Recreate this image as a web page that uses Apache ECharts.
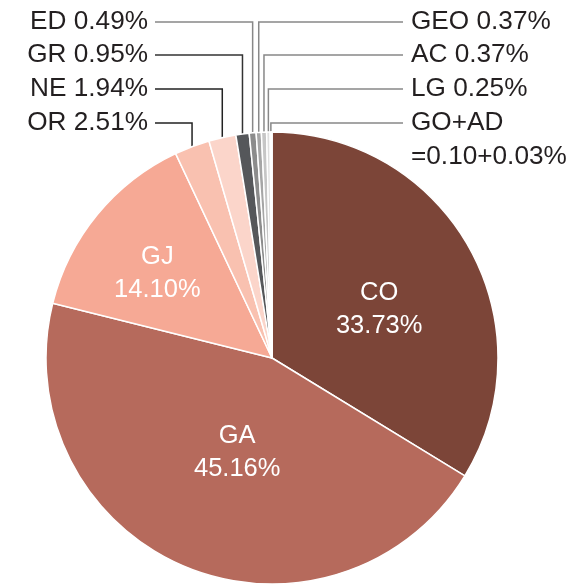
<!DOCTYPE html>
<html>
<head>
<meta charset="utf-8">
<script src="https://cdn.jsdelivr.net/npm/echarts@6/dist/echarts.min.js"></script>
<style>html,body{margin:0;padding:0;background:#fff}#c{width:567px;height:585px}</style>
</head>
<body>
<div id="c"></div>
<script>
// ---- data ----
const names  = ['CO','GA','GJ','OR','NE','GR','ED','GEO','AC','LG','GO','AD'];
const values = [33.73, 45.16, 14.10, 2.51, 1.94, 0.95, 0.49, 0.37, 0.37, 0.25, 0.10, 0.03];
const labelTexts = ['CO\n33.73%','GA\n45.16%','GJ\n14.10%','OR 2.51%','NE 1.94%','GR 0.95%','ED 0.49%','GEO 0.37%','AC 0.37%','LG 0.25%','GO+AD\n=0.10+0.03%',''];

// ---- styles ----
const colors = ['#7c4538','#b66a5c','#f6a995','#f9c1b0','#fbd5ca','#55575a','#8c8c8c','#a6a6a6','#c6c6c6','#dedede','#fad0c4','#fde6df'];
const FONT = 'Liberation Sans, Arial, Helvetica, sans-serif';
const FS_IN = 25.5, FS_OUT = 26.2;
// inside label nudges
const insideShift = {0:[6,8], 1:[10,-13], 2:[-25,-11]};
// outside label placement: side, text row centre y
const outside = {
  3:{side:'L', y:123, line:'#222'},
  4:{side:'L', y:89,  line:'#222'},
  5:{side:'L', y:55,  line:'#333'},
  6:{side:'L', y:22,  line:'#888'},
  7:{side:'R', y:22,  line:'#888'},
  8:{side:'R', y:55,  line:'#888'},
  9:{side:'R', y:89,  line:'#888'},
  10:{side:'R', y:123, line:'#888', multi:true}
};
const LEFT_TEXT_END = 148, LEFT_LINE_END = 155, RIGHT_TEXT_START = 411, RIGHT_LINE_END = 403;

const data = names.map((n, i) => {
  const item = { name: n, value: values[i], itemStyle: { color: colors[i] } };
  if (i < 3) {
    item.label = { show: true, position: 'inside', color: '#fff', formatter: labelTexts[i],
      fontSize: FS_IN, lineHeight: 33, fontFamily: FONT };
    item.labelLine = { show: false };
  } else if (outside[i]) {
    item.label = { show: true, position: 'outside', color: '#231f20', formatter: labelTexts[i],
      fontSize: FS_OUT, lineHeight: 34, fontFamily: FONT };
    item.labelLine = { show: true, length: 10, length2: 10, lineStyle: { color: outside[i].line, width: 1.5 } };
  } else {
    item.label = { show: false };
    item.labelLine = { show: false };
  }
  return item;
});

const chart = echarts.init(document.getElementById('c'), null, { renderer: 'canvas' });
chart.setOption({
  animation: false,
  series: [{
    type: 'pie',
    center: [272, 358],
    radius: [0, 226],
    startAngle: 90,
    clockwise: true,
    avoidLabelOverlap: false,
    itemStyle: { borderColor: '#fff', borderWidth: 1.5 },
    emphasis: { disabled: true },
    data: data,
    labelLayout: function (p) {
      const i = p.dataIndex;
      if (insideShift[i]) return { dx: insideShift[i][0], dy: insideShift[i][1] };
      const o = outside[i];
      if (!o || !p.labelLinePoints) return {};
      const p0 = p.labelLinePoints[0];
      const vx = p0[0];
      const start = [vx, p0[1] + 9];
      if (o.side === 'L') {
        return {
          x: LEFT_TEXT_END, y: o.y, align: 'right', verticalAlign: 'middle',
          labelLinePoints: [start, [vx, o.y], [LEFT_LINE_END, o.y]]
        };
      } else {
        return {
          x: RIGHT_TEXT_START, y: o.multi ? o.y - 17 : o.y, align: 'left', verticalAlign: o.multi ? 'top' : 'middle',
          labelLinePoints: [start, [vx, o.y], [RIGHT_LINE_END, o.y]]
        };
      }
    }
  }]
});
</script>
</body>
</html>
